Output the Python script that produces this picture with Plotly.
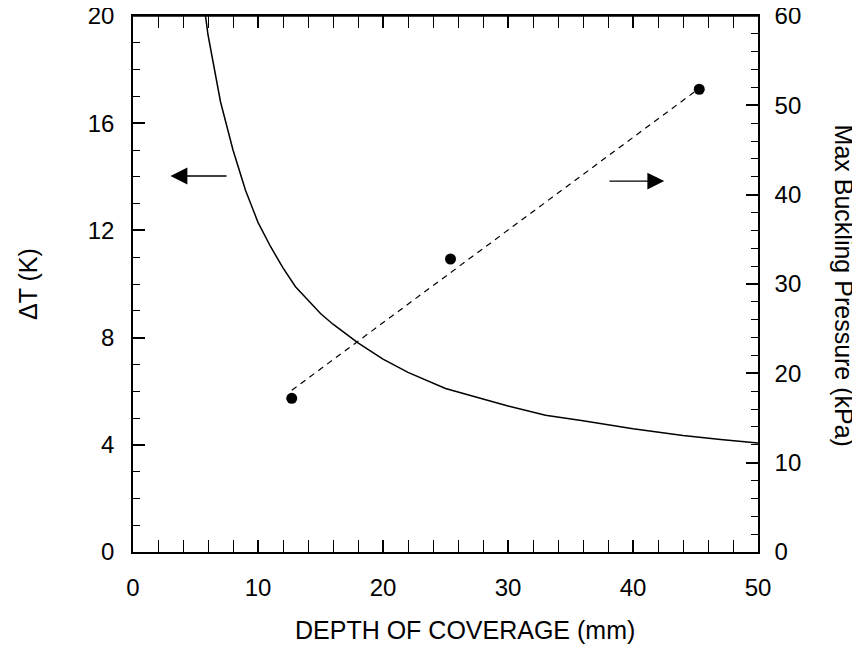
import plotly.graph_objects as go

# Delta T curve (left axis)
depth_curve = [5.8, 6, 7, 8, 9, 10, 11, 12, 13, 14, 15, 16, 18, 20, 22, 25,
               28, 30, 33, 36, 40, 44, 47, 50]
dT_curve = [20.0, 19.3, 16.8, 15.0, 13.5, 12.3, 11.4, 10.6, 9.9, 9.4, 8.9, 8.5,
            7.8, 7.2, 6.7, 6.1, 5.7, 5.45, 5.1, 4.9, 4.6, 4.35, 4.2, 4.07]

# Measured buckling pressure (right axis)
depth_pts = [12.7, 25.4, 45.3]
pressure_pts = [17.2, 32.8, 51.8]

# Linear fit line (dashed)
fit_depth = [12.7, 45.3]
fit_pressure = [18.1, 51.9]

FONT = "Liberation Sans, Arial, Helvetica, sans-serif"

fig = go.Figure()
fig.add_trace(go.Scatter(x=depth_curve, y=dT_curve, mode="lines",
                         line=dict(color="black", width=1.5), showlegend=False))
fig.add_trace(go.Scatter(x=fit_depth, y=fit_pressure, mode="lines", yaxis="y2",
                         line=dict(color="black", width=1.2, dash="6px,5px"),
                         showlegend=False))
fig.add_trace(go.Scatter(x=depth_pts, y=pressure_pts, mode="markers", yaxis="y2",
                         marker=dict(color="black", size=11), showlegend=False))

axis_common = dict(showline=True, linecolor="black", linewidth=1.5,
                   ticks="inside", tickcolor="black", tickwidth=1.5, ticklen=12,
                   showgrid=False, zeroline=False,
                   tickfont=dict(family=FONT, size=24, color="black"))
minor_common = dict(ticks="inside", ticklen=7, tickcolor="black", tickwidth=1.2)

fig.update_layout(
    width=860, height=645,
    margin=dict(l=125, r=110, t=8, b=101, autoexpand=False),
    paper_bgcolor="white", plot_bgcolor="white",
    xaxis=dict(range=[0, 50], dtick=10, tick0=0, mirror="allticks",
               ticklabelstandoff=13, minor=dict(dtick=2, **minor_common),
               **axis_common),
    yaxis=dict(range=[0, 20], dtick=4, tick0=0, ticklabelstandoff=12,
               automargin=False, ticklabeloverflow="allow",
               minor=dict(dtick=1, **minor_common), **axis_common),
    yaxis2=dict(range=[0, 60], dtick=10, tick0=0, overlaying="y", side="right",
                ticklabelstandoff=10, automargin=False, ticklabeloverflow="allow",
                minor=dict(dtick=2, **minor_common), **axis_common),
)

# Top frame line (backup for the mirrored axis line)
fig.add_shape(type="line", xref="paper", yref="paper", x0=0, x1=1, y0=1, y1=1,
              line=dict(color="black", width=1.5), layer="above")

# Axis titles as annotations
fig.add_annotation(text="DEPTH OF COVERAGE (mm)", xref="paper", yref="paper",
                   x=(465 - 133) / 625, y=-(630 - 552) / 536, showarrow=False,
                   xanchor="center", yanchor="middle",
                   font=dict(family=FONT, size=25, color="black"))
fig.add_annotation(text="ΔT (K)", xref="paper", yref="paper",
                   x=-(133 - 28) / 625, y=0.5, textangle=-90, showarrow=False,
                   xanchor="center", yanchor="middle",
                   font=dict(family=FONT, size=25, color="black"))
fig.add_annotation(text="Max Buckling Pressure (kPa)", xref="paper", yref="paper",
                   x=1 + (844 - 758) / 625, y=0.497, textangle=90, showarrow=False,
                   xanchor="center", yanchor="middle",
                   font=dict(family=FONT, size=25, color="black"))

# Arrows pointing to the relevant axis
fig.add_annotation(x=3.0, y=14.03, ax=7.6, ay=14.03, xref="x", yref="y",
                   axref="x", ayref="y", text="", showarrow=True,
                   arrowhead=2, arrowsize=2.6, arrowwidth=1.3, arrowcolor="black")
fig.add_annotation(x=42.5, y=13.84, ax=38.0, ay=13.84, xref="x", yref="y",
                   axref="x", ayref="y", text="", showarrow=True,
                   arrowhead=2, arrowsize=2.6, arrowwidth=1.3, arrowcolor="black")

fig.write_html("out.html")
